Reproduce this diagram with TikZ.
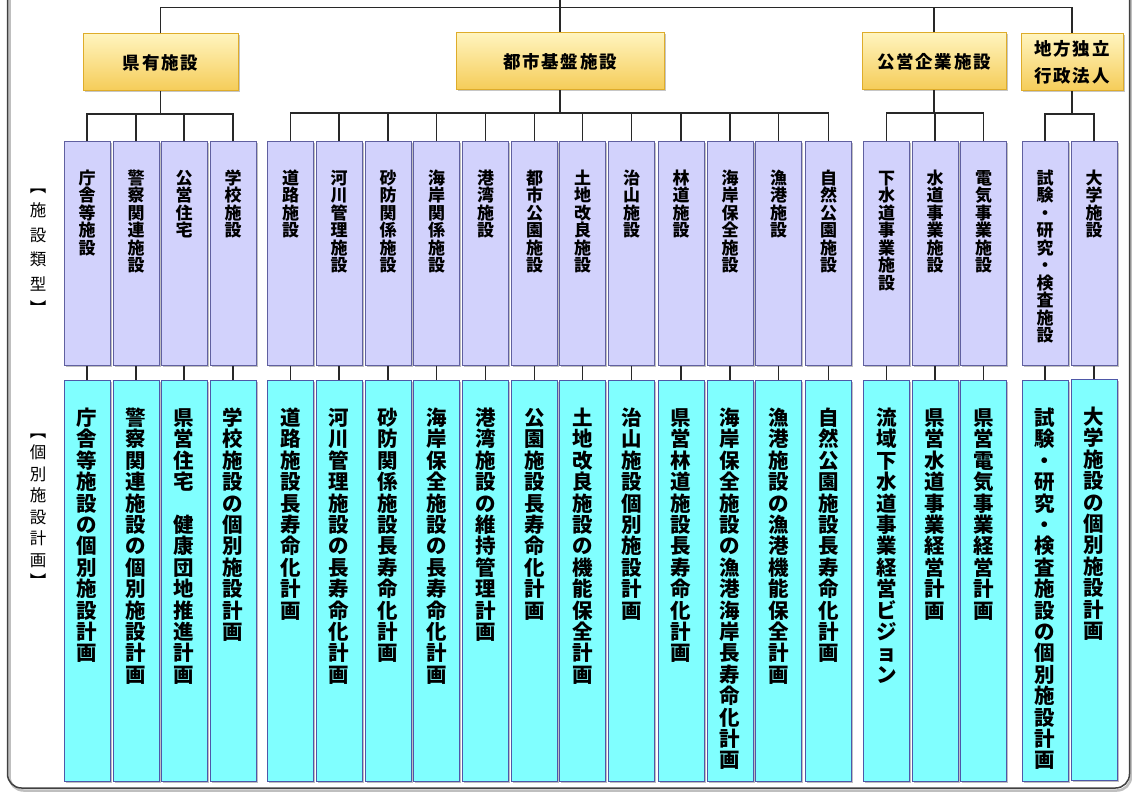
\documentclass[tikz,border=0pt]{standalone}
\usepackage{fontspec}
\setmainfont{Noto Sans CJK JP}
\usepackage{tikz}
\usetikzlibrary{shadows}
\definecolor{goldtop}{RGB}{255,244,190}
\definecolor{goldbot}{RGB}{245,204,88}
\definecolor{goldline}{RGB}{222,172,42}
\definecolor{lavfill}{RGB}{210,210,252}
\definecolor{lavline}{RGB}{96,96,160}
\definecolor{aqfill}{RGB}{128,255,255}
\definecolor{aqline}{RGB}{78,88,168}
\definecolor{wire}{RGB}{40,40,40}
\makeatletter
% vertical text, one character per line
\newcommand{\tate}[1]{\vtop{\@tfor\tatech:=#1\do{\hbox to 1em{\hss\tatech\hss}}}}
\makeatother
\tikzset{
  bunrui/.style={draw=goldline, line width=1pt, top color=goldtop, bottom color=goldbot,
    minimum height=57, inner sep=0, align=center,
    font=\fontsize{17.5}{27}\selectfont\bfseries\addfontfeature{LetterSpace=10},
    drop shadow={shadow xshift=1.5pt, shadow yshift=-1.5pt, opacity=.45}},
  ruikei/.style={anchor=north, draw=lavline, fill=lavfill, line width=1pt,
    minimum width=46, inner xsep=0, inner ysep=28, text height=15, text depth=153,
    font=\fontsize{17}{17.5}\selectfont\bfseries,
    drop shadow={shadow xshift=1.5pt, shadow yshift=-1.5pt, opacity=.5}},
  keikaku/.style={anchor=north, draw=aqline, fill=aqfill, line width=1pt,
    minimum width=46, inner xsep=0, inner ysep=27, text height=18, text depth=329,
    font=\fontsize{20.5}{21.4}\selectfont\bfseries,
    drop shadow={shadow xshift=1.5pt, shadow yshift=-1.5pt, opacity=.5}},
  midashi/.style={anchor=north, inner sep=0, text height=14},
  sen/.style={draw=wire, line width=1.3pt}
}
\begin{document}
\begin{tikzpicture}[x=1pt,y=-1pt]
\useasboundingbox (0,0) rectangle (1132,794);
\clip (0,0) rectangle (1132,794);
%outer frame and its shadow
\draw[rounded corners=14, line width=2.5pt, black!25] (9.5,-20) |- (1131,790.5) -- (1131,-20);
\draw[rounded corners=14, line width=1.5pt, black!75] (7.5,-20) |- (1129.5,788) -- (1129.5,-20);
%side headings
\node[midashi, font=\fontsize{16.5}{24.5}\selectfont] (lbl1) at (38,178) {\tate{︻施設類型︼}};
\node[midashi, font=\fontsize{16.5}{21.5}\selectfont] (lbl2) at (38,423) {\tate{︻個別施設計画︼}};
%top groups
\coordinate (root) at (560,-10);
\node[bunrui, minimum width=155] (ken) at (160.5,62.5) {県有施設};
\node[bunrui, minimum width=208] (toshi) at (560,61.5) {都市基盤施設};
\node[bunrui, minimum width=144] (kigyo) at (934,61.5) {公営企業施設};
\node[bunrui, minimum width=102] (dokuho) at (1072,62.5) {地方独立\\行政法人};
%facility types
\node[ruikei] (ken1) at (87,141) {\tate{庁舎等施設}};
\node[ruikei] (ken2) at (136,141) {\tate{警察関連施設}};
\node[ruikei] (ken3) at (184,141) {\tate{公営住宅}};
\node[ruikei] (ken4) at (233,141) {\tate{学校施設}};
\node[ruikei] (toshi1) at (290.5,141) {\tate{道路施設}};
\node[ruikei] (toshi2) at (339,141) {\tate{河川管理施設}};
\node[ruikei] (toshi3) at (388,141) {\tate{砂防関係施設}};
\node[ruikei] (toshi4) at (436.5,141) {\tate{海岸関係施設}};
\node[ruikei] (toshi5) at (485.5,141) {\tate{港湾施設}};
\node[ruikei] (toshi6) at (534.5,141) {\tate{都市公園施設}};
\node[ruikei] (toshi7) at (582.5,141) {\tate{土地改良施設}};
\node[ruikei] (toshi8) at (631.5,141) {\tate{治山施設}};
\node[ruikei] (toshi9) at (681,141) {\tate{林道施設}};
\node[ruikei] (toshi10) at (730,141) {\tate{海岸保全施設}};
\node[ruikei] (toshi11) at (778.5,141) {\tate{漁港施設}};
\node[ruikei] (toshi12) at (828.5,141) {\tate{自然公園施設}};
\node[ruikei] (kigyo1) at (886.5,141) {\tate{下水道事業施設}};
\node[ruikei] (kigyo2) at (935,141) {\tate{水道事業施設}};
\node[ruikei] (kigyo3) at (983.5,141) {\tate{電気事業施設}};
\node[ruikei] (dokuho1) at (1045,141) {\tate{試験・研究・検査施設}};
\node[ruikei] (dokuho2) at (1094,141) {\tate{大学施設}};
%individual plans
\node[keikaku] (pken1) at (87,380) {\tate{庁舎等施設の個別施設計画}};
\node[keikaku] (pken2) at (136,380) {\tate{警察関連施設の個別施設計画}};
\node[keikaku] (pken3) at (184,380) {\tate{県営住宅{\ }健康団地推進計画}};
\node[keikaku] (pken4) at (233,380) {\tate{学校施設の個別施設計画}};
\node[keikaku] (ptoshi1) at (290.5,380) {\tate{道路施設長寿命化計画}};
\node[keikaku] (ptoshi2) at (339,380) {\tate{河川管理施設の長寿命化計画}};
\node[keikaku] (ptoshi3) at (388,380) {\tate{砂防関係施設長寿命化計画}};
\node[keikaku] (ptoshi4) at (436.5,380) {\tate{海岸保全施設の長寿命化計画}};
\node[keikaku] (ptoshi5) at (485.5,380) {\tate{港湾施設の維持管理計画}};
\node[keikaku] (ptoshi6) at (534.5,380) {\tate{公園施設長寿命化計画}};
\node[keikaku] (ptoshi7) at (582.5,380) {\tate{土地改良施設の機能保全計画}};
\node[keikaku] (ptoshi8) at (631.5,380) {\tate{治山施設個別施設計画}};
\node[keikaku] (ptoshi9) at (681,380) {\tate{県営林道施設長寿命化計画}};
\node[keikaku] (ptoshi10) at (730,380) {\tate{海岸保全施設の漁港海岸長寿命化計画}};
\node[keikaku] (ptoshi11) at (778.5,380) {\tate{漁港施設の漁港機能保全計画}};
\node[keikaku] (ptoshi12) at (828.5,380) {\tate{自然公園施設長寿命化計画}};
\node[keikaku] (pkigyo1) at (886.5,380) {\tate{流域下水道事業経営ビジョン}};
\node[keikaku] (pkigyo2) at (935,380) {\tate{県営水道事業経営計画}};
\node[keikaku] (pkigyo3) at (983.5,380) {\tate{県営電気事業経営計画}};
\node[keikaku] (pdokuho1) at (1045,380) {\tate{試験・研究・検査施設の個別施設計画}};
\node[keikaku] (pdokuho2) at (1094,379) {\tate{大学施設の個別施設計画}};
%tree lines
\draw[sen] (root) -- (toshi.north);
\draw[sen] (ken.north) -- ++(0,-26) -| (dokuho.north);
\draw[sen] (kigyo.north) -- ++(0,-25);
\foreach \g/\n in {ken/4,toshi/12,kigyo/3,dokuho/2}{
  \foreach \i in {1,...,\n}{
    \draw[sen] (\g.south) -- ++(0,22.5) -| (\g\i.north);
    \draw[sen] (\g\i.south) -- (p\g\i.north);
  }
}
\end{tikzpicture}
\end{document}
